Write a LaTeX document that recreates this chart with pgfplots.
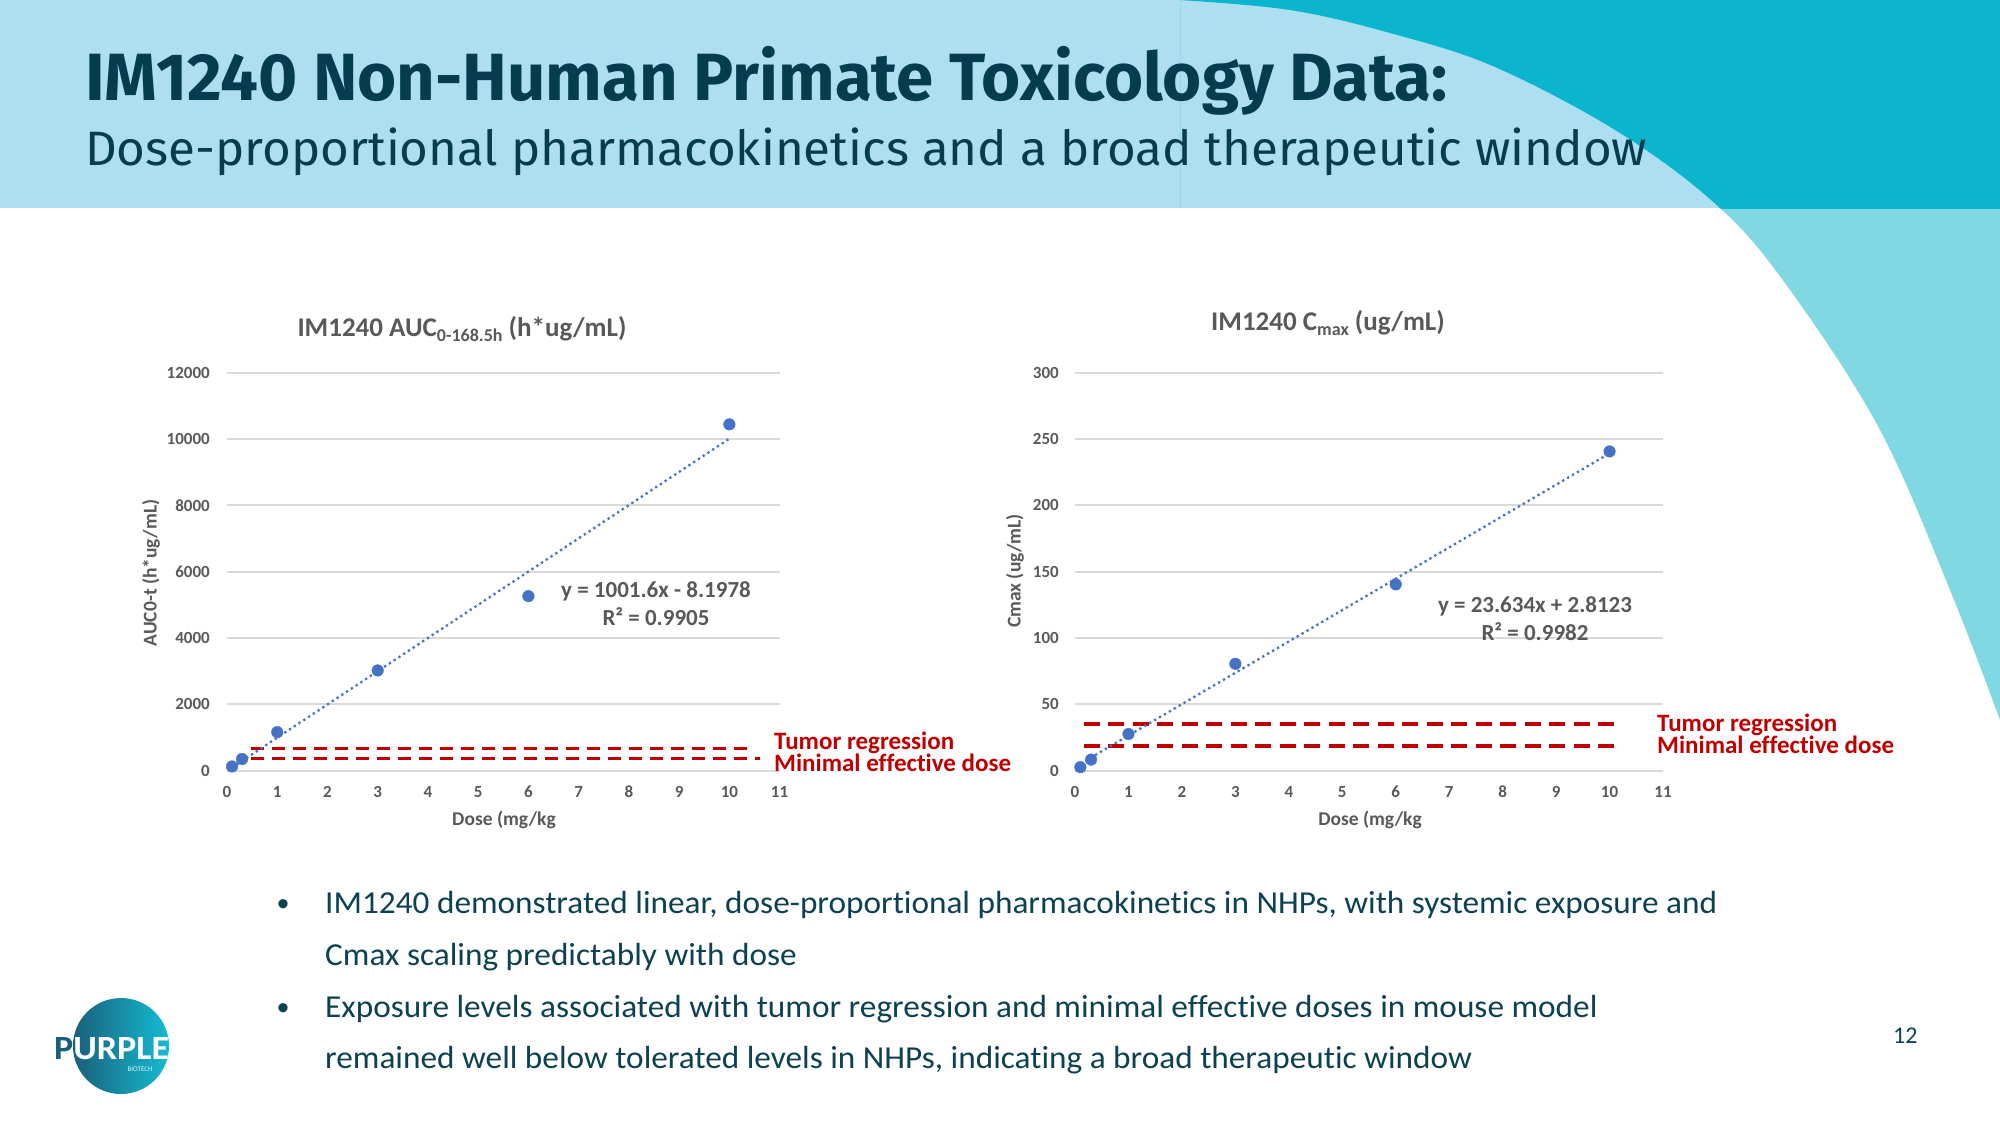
\documentclass[border=0pt]{standalone}
\usepackage{pgfplots}
\pgfplotsset{compat=1.18}
\usepackage{fontspec}
\usepackage{graphicx}
\setmainfont{Carlito}[Ligatures=CommonOff]
\newfontfamily\firafont{Fira Sans}
\definecolor{hdr}{HTML}{ADDFF0}
\definecolor{teal1}{HTML}{0BB5CE}
\definecolor{cyan1}{HTML}{80D8E3}
\definecolor{ttl}{HTML}{053D4E}
\definecolor{txt}{HTML}{0C4152}
\definecolor{gridc}{HTML}{D9D9D9}
\definecolor{tickc}{HTML}{595959}
\definecolor{ptblue}{HTML}{4472C4}
\definecolor{dred}{HTML}{C00000}
\definecolor{logoL}{HTML}{1A5F7A}
\definecolor{logoR}{HTML}{14BDD3}
\newcommand\bl[1]{\scalebox{1.04}[1]{#1}}
\pgfplotsset{
  npchart/.style={
    anchor=south west, scale only axis, clip=false,
    xmin=0, xmax=11, ymin=0,
    axis line style={draw=none},
    major tick length=0pt,
    xtick={0,1,...,11},
    ymajorgrids, grid style={gridc, line width=2pt},
    scaled y ticks=false,
    /pgf/number format/1000 sep={},
    /pgf/number format/assume math mode=true,
    tick label style={font=\fontsize{17}{17}\selectfont\bfseries, text=tickc},
    xticklabel style={anchor=base, inner sep=0pt, yshift=-27pt},
  },
  trend/.style={ptblue, line width=2.3pt, dash pattern=on 2.3pt off 3.4pt},
  pts/.style={only marks, mark=*, mark size=5.8pt, ptblue, mark options={draw=ptblue, fill=ptblue}},
  redl/.style={dred, line width=3.5pt},
}
\begin{document}
\begin{tikzpicture}
\path[use as bounding box] (0,0) rectangle (2000pt,-1125pt);
\begin{scope}[x=1pt,y=-1pt]
  \fill[white] (0,0) rectangle (2000,1125);
  \fill[hdr] (0,0) rectangle (2000,208);
  \fill[cyan1] plot[smooth, tension=0.6] coordinates {(1180,0) (1290,10) (1390,33) (1495,67) (1620,133) (1720,208) (1790,290) (1880,430) (1950,590) (2000,720)} -- (2000,0) -- cycle;
  \begin{scope}
    \clip (0,0) rectangle (2000,208);
    \fill[teal1] plot[smooth, tension=0.6] coordinates {(1180,0) (1290,10) (1390,33) (1495,67) (1620,133) (1720,208) (1790,290) (1880,430) (1950,590) (2000,720)} -- (2000,0) -- cycle;
  \end{scope}
  \draw[color=hdr!85!teal1, line width=0.8pt] (1180,0) -- (1180,208);
  % title
  \node[anchor=base west, inner sep=0pt, text=ttl] at (85,100.7)
    {\resizebox{1362pt}{\height}{\firafont\bfseries\fontsize{66.8}{70}\selectfont IM1240 Non-Human Primate Toxicology Data:}};
  \node[anchor=base west, inner sep=0pt, text=ttl] at (85,165)
    {\resizebox{1562pt}{\height}{\firafont\fontsize{48.3}{52}\selectfont Dose-proportional pharmacokinetics and a broad therapeutic window}};
\end{scope}

% ---------- left chart ----------
\begin{axis}[npchart, at={(227pt,-770.6pt)}, width=552.6pt, height=398pt,
  ymax=12000, ytick={0,2000,...,12000},
  yticklabel style={anchor=east, inner sep=0pt, xshift=-17pt}]
  \addplot[redl, dash pattern=on 13.5pt off 7.5pt] coordinates {(0.47,667) (10.38,667)};
  \addplot[redl, dash pattern=on 13.5pt off 7.5pt] coordinates {(0.47,365) (10.6,365)};
  \addplot[trend] coordinates {(0.1,92) (10,10008)};
  \addplot[pts] coordinates {(0.1,125) (0.3,350) (1,1160) (3,3020) (6,5260) (10,10440)};
\end{axis}

% ---------- right chart ----------
\begin{axis}[npchart, at={(1075pt,-770.6pt)}, width=588pt, height=398pt,
  ymax=300, ytick={0,50,...,300},
  yticklabel style={anchor=east, inner sep=0pt, xshift=-16pt}]
  \addplot[redl, dash pattern=on 16pt off 8.5pt] coordinates {(0.16,35) (10.16,35)};
  \addplot[redl, dash pattern=on 16pt off 8.5pt] coordinates {(0.16,18.5) (10.16,18.5)};
  \addplot[trend] coordinates {(0.1,5.18) (10,239.15)};
  \addplot[pts] coordinates {(0.1,2.6) (0.3,8.3) (1,27.6) (3,80.5) (6,140.4) (10,240.6)};
\end{axis}

\begin{scope}[x=1pt,y=-1pt]
  % chart titles
  \node[anchor=base, inner sep=0pt, text=tickc] at (462,336)
    {\fontsize{27}{27}\selectfont\bfseries IM1240 AUC\raisebox{-5pt}{\fontsize{18}{18}\selectfont 0-168.5h} (h*ug/mL)};
  \node[anchor=base, inner sep=0pt, text=tickc] at (1328,330)
    {\fontsize{27}{27}\selectfont\bfseries IM1240 C\raisebox{-5pt}{\fontsize{18}{18}\selectfont max} (ug/mL)};
  % axis labels
  \node[rotate=90, inner sep=0pt, text=tickc] at (151,573) {\fontsize{19.5}{19.5}\selectfont\bfseries AUC0-t (h*ug/mL)};
  \node[rotate=90, inner sep=0pt, text=tickc] at (1015,571) {\fontsize{19.5}{19.5}\selectfont\bfseries Cmax (ug/mL)};
  \node[inner sep=0pt, text=tickc] at (504,819.5) {\fontsize{19.5}{19.5}\selectfont\bfseries Dose (mg/kg};
  \node[inner sep=0pt, text=tickc] at (1370,819.5) {\fontsize{19.5}{19.5}\selectfont\bfseries Dose (mg/kg};
  % equations
  \node[anchor=base, inner sep=0pt, text=tickc] at (656,597) {\fontsize{23}{23}\selectfont\bfseries y = 1001.6x - 8.1978};
  \node[anchor=base, inner sep=0pt, text=tickc] at (656,625) {\fontsize{23}{23}\selectfont\bfseries R² = 0.9905};
  \node[anchor=base, inner sep=0pt, text=tickc] at (1535,612) {\fontsize{23}{23}\selectfont\bfseries y = 23.634x + 2.8123};
  \node[anchor=base, inner sep=0pt, text=tickc] at (1535,640) {\fontsize{23}{23}\selectfont\bfseries R² = 0.9982};
  % red labels
  \node[anchor=base west, inner sep=0pt, text=dred] at (774,749) {\fontsize{25}{25}\selectfont\bfseries Tumor regression};
  \node[anchor=base west, inner sep=0pt, text=dred] at (774,771) {\fontsize{25}{25}\selectfont\bfseries Minimal effective dose};
  \node[anchor=base west, inner sep=0pt, text=dred] at (1657,731) {\fontsize{25}{25}\selectfont\bfseries Tumor regression};
  \node[anchor=base west, inner sep=0pt, text=dred] at (1657,753) {\fontsize{25}{25}\selectfont\bfseries Minimal effective dose};
  % bullets
  \begin{scope}[every node/.style={anchor=base west, inner sep=0pt, text=txt, font=\fontsize{32}{32}\selectfont}]
    \node[anchor=base, font=\fontsize{26}{26}\selectfont] at (283,911) {•};
    \node[anchor=base, font=\fontsize{26}{26}\selectfont] at (283,1015) {•};
    \node at (325,913) {\bl{IM1240 demonstrated linear, dose-proportional pharmacokinetics in NHPs, with systemic exposure and}};
    \node at (325,965) {\bl{Cmax scaling predictably with dose}};
    \node at (325,1017) {\bl{Exposure levels associated with tumor regression and minimal effective doses in mouse model}};
    \node at (325,1068) {\bl{remained well below tolerated levels in NHPs, indicating a broad therapeutic window}};
  \end{scope}
  \node[anchor=base west, inner sep=0pt, text=txt] at (1893,1043) {\fontsize{24}{24}\selectfont 12};
  % logo
  \shade[left color=logoL, right color=logoR] (121,1046) circle (48);
  \node[anchor=base west, inner sep=0pt, text=white] at (54,1059) {\resizebox{115pt}{22pt}{\bfseries\textcolor{logoL}{P}URPLE}};
  \node[anchor=base, inner sep=0pt, text=white!85!logoR] at (140,1071) {\fontsize{7}{7}\selectfont BIOTECH};
\end{scope}
\end{tikzpicture}
\end{document}
